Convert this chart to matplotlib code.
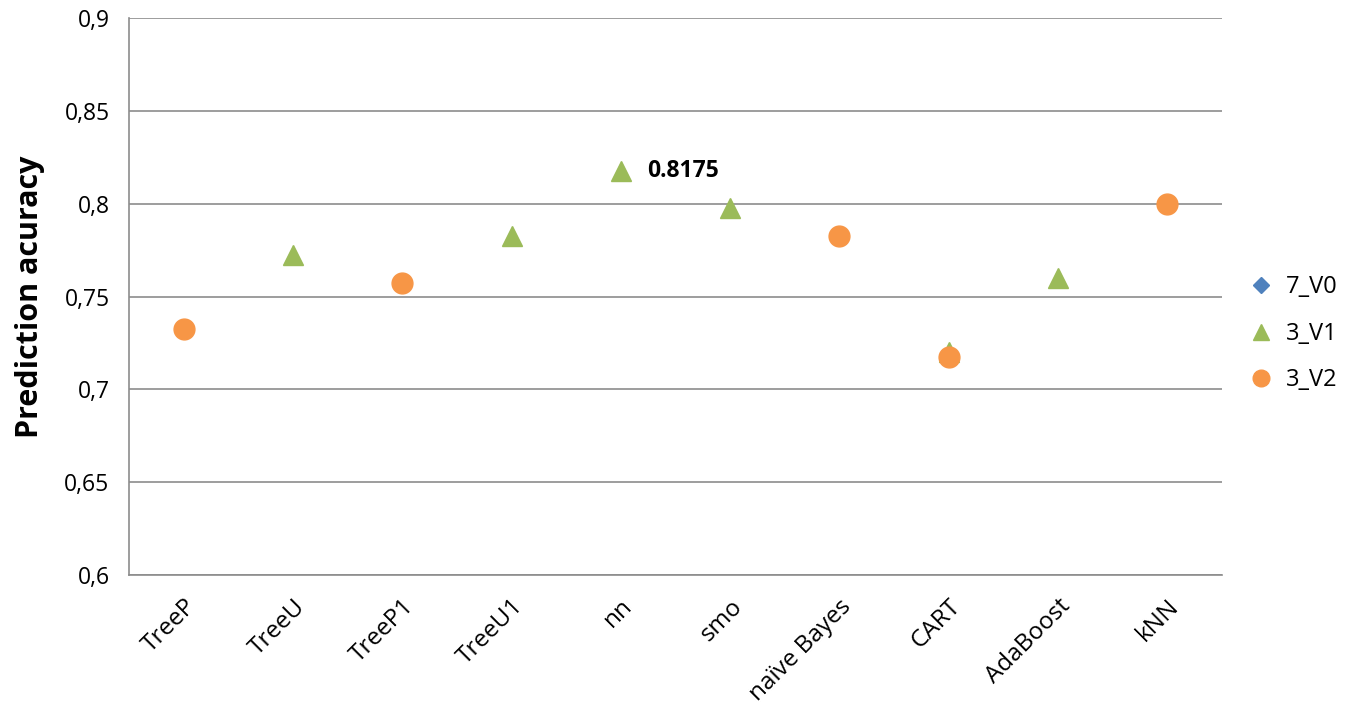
import matplotlib.pyplot as plt
import numpy as np

categories = ['TreeP', 'TreeU', 'TreeP1', 'TreeU1', 'nn', 'smo',
              'naïve Bayes', 'CART', 'AdaBoost', 'kNN']
# None = no value for that method
v0 = [None] * 10
v1 = [None, 0.7725, None, 0.7825, 0.8175, 0.7975, None, 0.72, 0.76, None]
v2 = [0.7325, None, 0.7575, None, None, None, 0.7825, 0.7175, None, 0.80]

plt.rcParams['font.family'] = ['Open Sans', 'DejaVu Sans']

fig = plt.figure(figsize=(13.48, 7.12), dpi=100)
ax = fig.add_axes([0.0957, 0.1924, 0.8108, 0.7823])

x = np.arange(len(categories))


def to_arr(vals):
    return np.array([np.nan if v is None else v for v in vals], dtype=float)


ax.plot(x, to_arr(v0), linestyle='none', marker='D', markersize=10,
        color='#4F81BD', label='7_V0', zorder=3)
ax.plot(x, to_arr(v1), linestyle='none', marker='^', markersize=15,
        color='#9BBB59', label='3_V1', zorder=3)
ax.plot(x, to_arr(v2), linestyle='none', marker='o', markersize=15,
        color='#F79646', label='3_V2', zorder=4)

# label the best value
i_best = 4
ax.annotate(f'{v1[i_best]:.4f}', (x[i_best], v1[i_best]),
            xytext=(19, 0), textcoords='offset points',
            ha='left', va='center', fontsize=16.5, fontweight='bold')

ax.set_xlim(-0.5, len(categories) - 0.5)
ax.set_ylim(0.6, 0.9)
yt = np.arange(0.6, 0.9001, 0.05)
ax.set_yticks(yt)
ax.set_yticklabels([f'{t:.2f}'.rstrip('0').replace('.', ',') for t in yt],
                   fontsize=16.5)
ax.set_xticks(x)
ax.set_xticklabels(categories, rotation=45, ha='right',
                   rotation_mode='anchor', fontsize=17.5)
ax.tick_params(length=0)
ax.tick_params(axis='y', pad=14)
ax.tick_params(axis='x', pad=14)

ax.grid(axis='y', color='#8C8C8C', linewidth=1.2)
ax.set_axisbelow(True)
for s in ['top', 'right']:
    ax.spines[s].set_visible(False)
for s in ['left', 'bottom']:
    ax.spines[s].set_color('#8C8C8C')
    ax.spines[s].set_linewidth(1.2)

ax.set_ylabel('Prediction acuracy', fontsize=22, fontweight='bold')
ax.yaxis.set_label_coords(-0.077, 0.5)

ax.legend(loc='center left', bbox_to_anchor=(0.918, 0.531),
          bbox_transform=fig.transFigure, frameon=False,
          fontsize=17, handletextpad=0.05, labelspacing=0.95,
          markerscale=0.8, borderpad=0, borderaxespad=0)

fig.savefig('out.png', dpi=100)
